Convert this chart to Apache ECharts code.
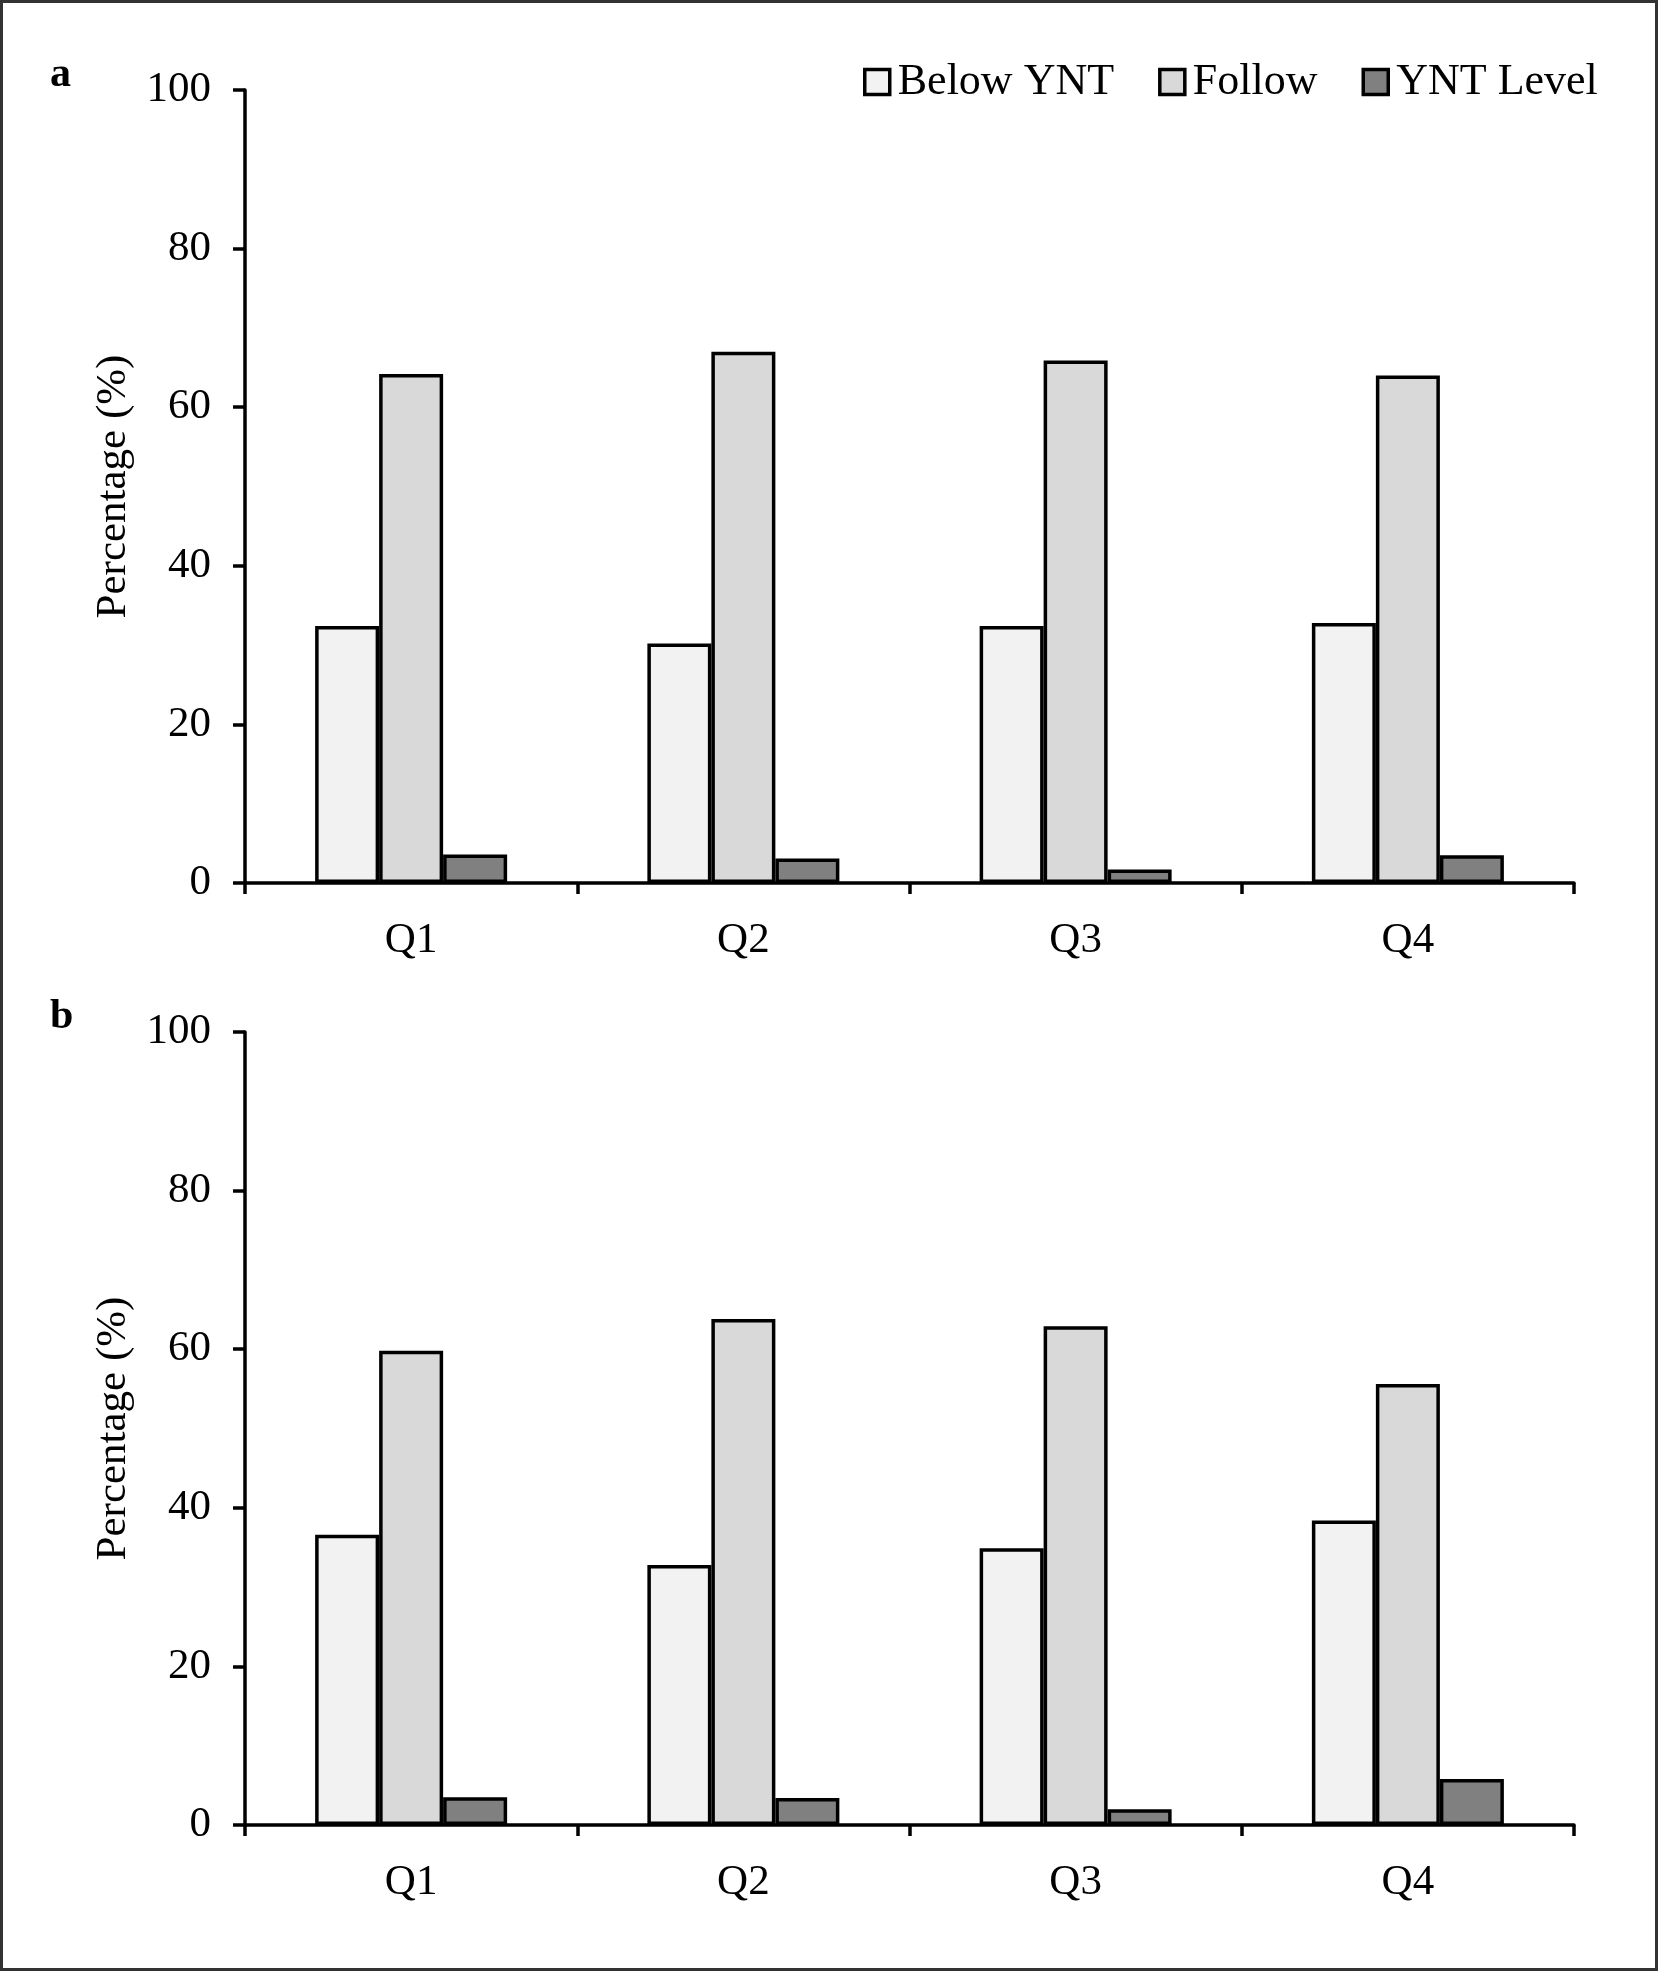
<!DOCTYPE html>
<html>
<head>
<meta charset="utf-8">
<script src="https://cdn.jsdelivr.net/npm/echarts@6/dist/echarts.min.js"></script>
<style>
html,body{margin:0;padding:0;background:#fff;}
#chart{width:1658px;height:1971px;}
</style>
</head>
<body>
<div id="chart"></div>
<script>
const categories = ['Q1', 'Q2', 'Q3', 'Q4'];
const seriesNames = ['Below YNT', 'Follow', 'YNT Level'];
const panelA_below = [32.4, 30.2, 32.4, 32.8];
const panelA_follow = [64.2, 67.0, 65.9, 64.0];
const panelA_ynt = [3.6, 3.1, 1.7, 3.5];
const panelB_below = [36.6, 32.8, 34.9, 38.4];
const panelB_follow = [59.8, 63.8, 62.9, 55.6];
const panelB_ynt = [3.5, 3.4, 2.0, 5.8];
const panelLabels = ['a', 'b'];
const yAxisTitle = 'Percentage (%)';

const FONT = "'Liberation Serif', 'Times New Roman', serif";
const colors = ['#f2f2f2', '#d9d9d9', '#808080'];

const chart = echarts.init(document.getElementById('chart'));

function xAxisFor(gi) {
  return {
    type: 'category', gridIndex: gi, data: categories, boundaryGap: true,
    axisLine: {lineStyle: {color: '#000', width: 3.5}},
    axisTick: {show: true, length: 11, lineStyle: {color: '#000', width: 3.5}},
    axisLabel: {color: '#000', fontSize: 43, fontFamily: FONT, margin: 36}
  };
}
function yAxisFor(gi) {
  return {
    type: 'value', gridIndex: gi, min: 0, max: 100, interval: 20,
    name: yAxisTitle, nameLocation: 'middle', nameGap: 100,
    nameTextStyle: {color: '#000', fontSize: 43, fontFamily: FONT},
    axisLine: {show: true, lineStyle: {color: '#000', width: 3.5}},
    axisTick: {show: true, length: 12, lineStyle: {color: '#000', width: 3.5}},
    axisLabel: {color: '#000', fontSize: 43, fontFamily: FONT, margin: 34},
    splitLine: {show: false}
  };
}
const panelData = [
  [panelA_below, panelA_follow, panelA_ynt],
  [panelB_below, panelB_follow, panelB_ynt]
];
const series = [];
panelData.forEach((arrs, gi) => {
  arrs.forEach((vals, si) => {
    series.push({
      type: 'bar', name: seriesNames[si], xAxisIndex: gi, yAxisIndex: gi,
      data: vals, barWidth: 64, barGap: '0%',
      itemStyle: {color: colors[si], borderColor: '#000', borderWidth: 3.5},
      emphasis: {disabled: true}
    });
  });
});

chart.setOption({
  animation: false,
  backgroundColor: '#fff',
  legend: {
    data: seriesNames.map(n => ({name: n, icon: 'rect'})), left: 858, top: 55,
    itemWidth: 25, itemHeight: 25, itemGap: 44,
    itemStyle: {borderColor: '#000', borderWidth: 3.5},
    textStyle: {color: '#000', fontSize: 44, fontFamily: FONT, padding: [0, 0, 0, 3]},
    selectedMode: false
  },
  grid: [
    {left: 245, width: 1329, top: 90, height: 793},
    {left: 245, width: 1329, top: 1032, height: 793}
  ],
  xAxis: [xAxisFor(0), xAxisFor(1)],
  yAxis: [yAxisFor(0), yAxisFor(1)],
  series: series,
  graphic: [
    {type: 'rect', shape: {x: 1.5, y: 1.5, width: 1655, height: 1968},
     style: {fill: 'none', stroke: '#333', lineWidth: 3}, silent: true},
    {type: 'text', x: 50, y: 75, style: {text: panelLabels[0], font: 'bold 42px ' + FONT, fill: '#000', verticalAlign: 'middle'}},
    {type: 'text', x: 50, y: 1017, style: {text: panelLabels[1], font: 'bold 42px ' + FONT, fill: '#000', verticalAlign: 'middle'}}
  ]
});
</script>
</body>
</html>
